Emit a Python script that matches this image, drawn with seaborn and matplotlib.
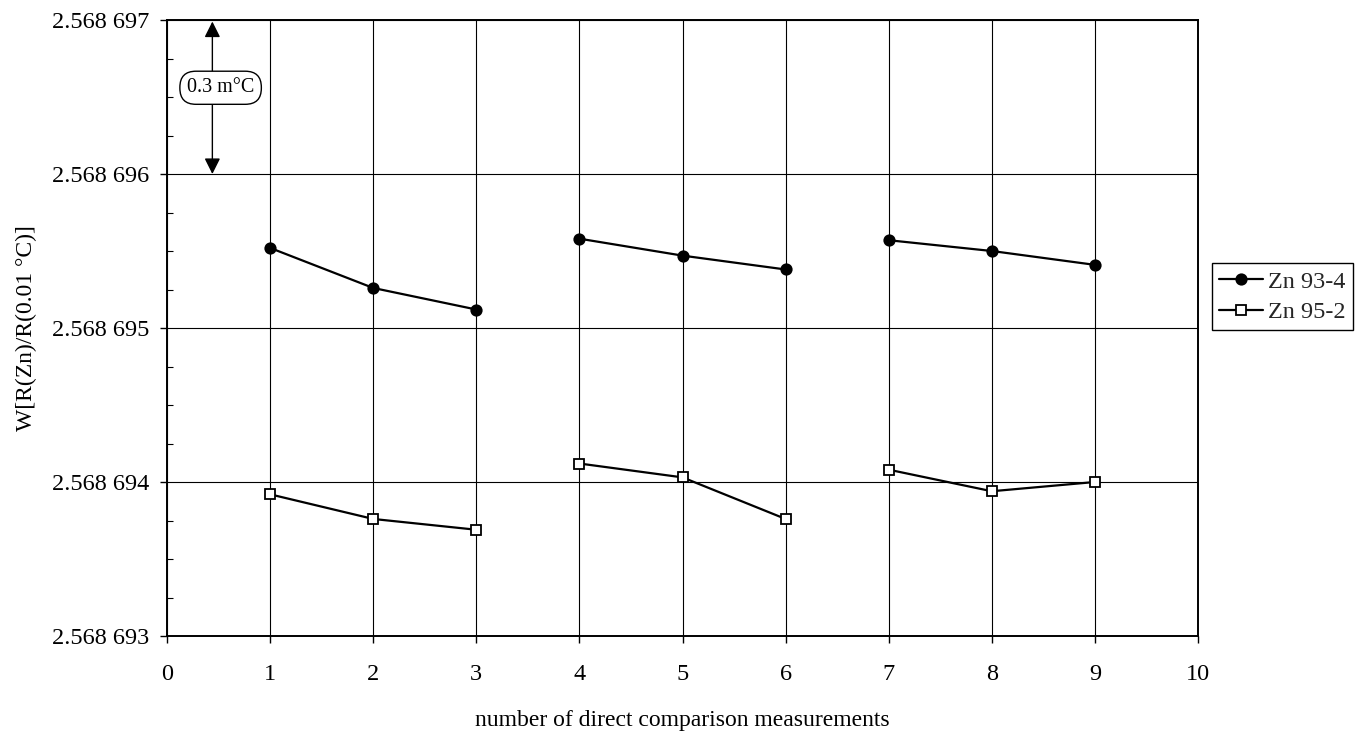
import numpy as np
import pandas as pd
import matplotlib
matplotlib.use('Agg')
import matplotlib.pyplot as plt
from matplotlib.ticker import FuncFormatter, AutoMinorLocator, FixedLocator
import seaborn as sns

# measurement number and the run (block of three) it belongs to
measurement = [1, 2, 3, 4, 5, 6, 7, 8, 9]
run = [1, 1, 1, 2, 2, 2, 3, 3, 3]

# W[R(Zn)/R(0.01 C)]
zn_93_4 = [2.56869552, 2.56869526, 2.56869512, 2.56869558, 2.56869547,
           2.56869538, 2.56869557, 2.56869550, 2.56869541]
zn_95_2 = [2.56869392, 2.56869376, 2.56869369, 2.56869412, 2.56869403,
           2.56869376, 2.56869408, 2.56869394, 2.56869400]
series_names = ['Zn 93-4', 'Zn 95-2']

x_ticks = [0, 1, 2, 3, 4, 5, 6, 7, 8, 9, 10]
y_ticks = [2.568693, 2.568694, 2.568695, 2.568696, 2.568697]

sns.set_theme(style='ticks')
plt.rcParams['font.family'] = ['Liberation Serif', 'DejaVu Serif']

df = pd.DataFrame({
    'measurement': measurement * 2,
    'run': run * 2,
    'W': zn_93_4 + zn_95_2,
    'sample': [name for name in series_names for _ in measurement],
})

fig = plt.figure(figsize=(13.55, 7.31), dpi=100)
ax = fig.add_axes([167 / 1355, 1 - 636 / 731, (1198 - 167) / 1355, 616 / 731])

sns.lineplot(data=df, x='measurement', y='W', hue='sample', style='sample',
             units='run', estimator=None, palette=['black', 'black'],
             markers=['o', 's'], dashes=False, markersize=7.5, linewidth=1.6,
             markeredgecolor='black', markeredgewidth=1.3, ax=ax)

# open squares for Zn 95-2
for line in ax.lines:
    if line.get_marker() == 's':
        line.set_markerfacecolor('white')

handles, labels = ax.get_legend_handles_labels()
for h in handles:
    if h.get_marker() == 's':
        h.set_markerfacecolor('white')
    h.set_markeredgecolor('black')
ax.get_legend().remove()
leg = fig.legend(handles, labels, loc='center left', bbox_to_anchor=(0.8945, 0.594),
                 frameon=True, fancybox=False, framealpha=1, edgecolor='black',
                 fontsize=17.5, handlelength=1.8, handletextpad=0.2,
                 labelspacing=0.35, borderpad=0.3, borderaxespad=0)
leg.get_frame().set_linewidth(1.0)

ax.set_xlim(x_ticks[0], x_ticks[-1])
ax.set_ylim(y_ticks[0], y_ticks[-1])
ax.xaxis.set_major_locator(FixedLocator(x_ticks))
ax.yaxis.set_major_locator(FixedLocator(y_ticks))
ax.yaxis.set_minor_locator(AutoMinorLocator(4))


def fmt_w(v, pos):
    s = f"{v:.6f}"
    return s[:5] + ' ' + s[5:]


ax.yaxis.set_major_formatter(FuncFormatter(fmt_w))

ax.grid(True, which='major', color='black', linewidth=0.8)
for sp in ax.spines.values():
    sp.set_visible(True)
    sp.set_color('black')
    sp.set_linewidth(1.4)

ax.tick_params(axis='both', which='major', direction='out', length=5, width=1,
               colors='black', labelsize=17.5)
ax.tick_params(axis='x', which='major', pad=15)
ax.tick_params(axis='y', which='major', pad=8)
ax.tick_params(axis='y', which='minor', direction='in', length=4, width=0.8, color='black')

ax.set_xlabel('number of direct comparison measurements', fontsize=17, color='black', labelpad=18)
ax.set_ylabel('W[R(Zn)/R(0.01 °C)]', fontsize=17, color='black')
ax.yaxis.set_label_coords(-0.126, 0.5)

# 0.3 mK scale marker
ax.annotate('', xy=(0.44, 2.56869699), xytext=(0.44, 2.568696),
            arrowprops=dict(arrowstyle='<|-|>', color='black', lw=1.0,
                            mutation_scale=24, shrinkA=0, shrinkB=0))
ax.text(0.52, 2.56869656, '0.3 m°C', fontsize=14.5, ha='center', va='center',
        color='black',
        bbox=dict(boxstyle='round,pad=0.35,rounding_size=0.8', fc='white', ec='black', lw=1.0))

fig.savefig('out.png', dpi=100, facecolor='white')
